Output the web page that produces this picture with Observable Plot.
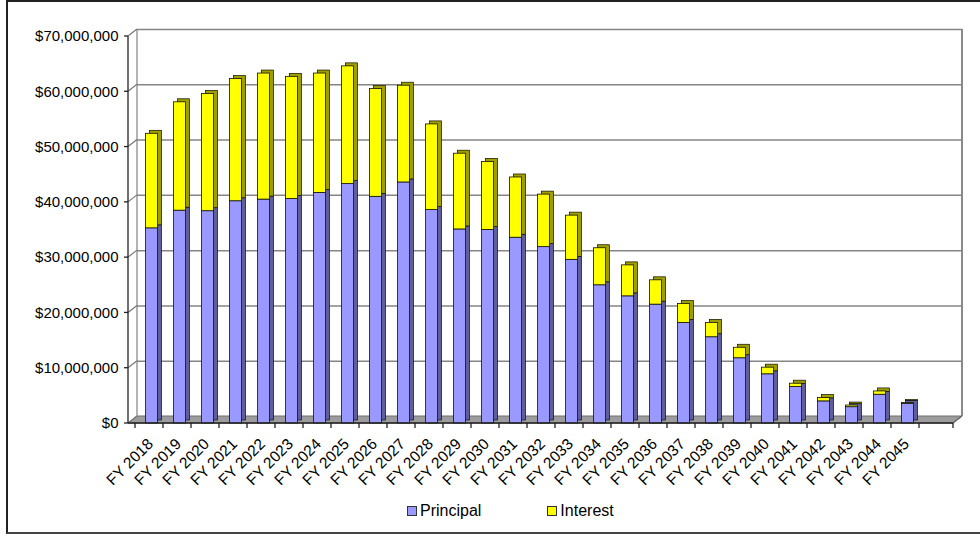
<!DOCTYPE html>
<html>
<head>
<meta charset="utf-8">
<script src="https://cdn.jsdelivr.net/npm/d3@7"></script>
<script src="https://cdn.jsdelivr.net/npm/@observablehq/plot@0.6"></script>
<style>
  html, body { margin: 0; padding: 0; background: #fff; }
  #wrap { position: relative; width: 980px; height: 537px; overflow: hidden; font-family: "Liberation Sans", Arial, sans-serif; }
  #border { position: absolute; left: 6px; top: 0px; width: 980px; height: 534px; border-left: 2px solid #222; border-top: 2px solid #222; border-bottom: 2px solid #444; box-sizing: border-box; }
  #chart { position: absolute; left: 0; top: 0; }
  #legend { position: absolute; left: 407px; top: 502px; display: flex; align-items: center; font-size: 16px; color: #000; }
  #legend .item { display: flex; align-items: center; }
  #legend .sw { width: 8px; height: 8px; border: 1px solid #333; margin-right: 3px; }
</style>
</head>
<body>
<div id="wrap">
  <div id="border"></div>
  <div id="chart"></div>
  <div id="legend"></div>
</div>
<script>
// ---- data ----
const years = ["FY 2018","FY 2019","FY 2020","FY 2021","FY 2022","FY 2023","FY 2024","FY 2025","FY 2026","FY 2027",
  "FY 2028","FY 2029","FY 2030","FY 2031","FY 2032","FY 2033","FY 2034","FY 2035","FY 2036","FY 2037",
  "FY 2038","FY 2039","FY 2040","FY 2041","FY 2042","FY 2043","FY 2044","FY 2045"];
const principal = [35300000, 38500000, 38400000, 40200000, 40500000, 40600000, 41700000, 43300000, 41000000, 43600000,
  38600000, 35100000, 35000000, 33600000, 31900000, 29600000, 25000000, 23000000, 21500000, 18200000,
  15600000, 11800000, 8900000, 6600000, 4000000, 2950000, 5200000, 3550000];
const interest = [17100000, 19600000, 21200000, 22100000, 22800000, 22100000, 21600000, 21300000, 19500000, 17500000,
  15500000, 13700000, 12300000, 10900000, 9500000, 8000000, 6700000, 5600000, 4400000, 3400000,
  2600000, 1900000, 1200000, 600000, 600000, 300000, 600000, 150000];
const seriesNames = ["Principal", "Interest"];
const seriesColors = ["#9999FF", "#FFFF00"];
const yTicks = [0, 10000000, 20000000, 30000000, 40000000, 50000000, 60000000, 70000000];

// long-format table
const table = [];
years.forEach((yr, i) => {
  table.push({year: yr, series: "Principal", value: principal[i]});
  table.push({year: yr, series: "Interest", value: interest[i]});
});

const DX = 9, DY = -7;     // wall depth
const BX = 4, BY = -3;     // bar depth
const fmt = d => "$" + d3.format(",")(d);

function structure(index, scales, values, dims) {
  const x = scales.x, y = scales.y;
  const x0 = dims.marginLeft, x1 = dims.width - dims.marginRight;
  const y0 = y(0), yT = y(yTicks[yTicks.length - 1]);
  const g = d3.create("svg:g");
  // floor
  g.append("path")
    .attr("d", `M${x0},${y0}L${x1},${y0}L${x1 + DX},${y0 + DY}L${x0 + DX},${y0 + DY}Z`)
    .attr("fill", "#9c9c9c").attr("stroke", "#6e6e6e").attr("stroke-width", 1);
  // back wall edges
  g.append("line").attr("x1", x0 + DX).attr("x2", x0 + DX).attr("y1", y0 + DY).attr("y2", yT + DY)
    .attr("stroke", "#8a8a8a").attr("stroke-width", 1.3);
  g.append("line").attr("x1", x1 + DX).attr("x2", x1 + DX).attr("y1", y0 + DY).attr("y2", yT + DY)
    .attr("stroke", "#8a8a8a").attr("stroke-width", 2);
  // side wall diagonals
  yTicks.forEach(t => {
    g.append("line").attr("x1", x0).attr("y1", y(t)).attr("x2", x0 + DX).attr("y2", y(t) + DY)
      .attr("stroke", "#777").attr("stroke-width", 1.2);
  });
  return g.node();
}

function axesLines(index, scales, values, dims) {
  const x = scales.x, y = scales.y;
  const x0 = dims.marginLeft, x1 = dims.width - dims.marginRight;
  const y0 = y(0), yT = y(yTicks[yTicks.length - 1]);
  const g = d3.create("svg:g").attr("stroke", "#222").attr("stroke-width", 1.3);
  g.append("line").attr("x1", x0).attr("x2", x0).attr("y1", y0).attr("y2", yT);
  g.append("line").attr("x1", x0).attr("x2", x1).attr("y1", y0).attr("y2", y0);
  g.append("line").attr("x1", x1).attr("x2", x1 + DX).attr("y1", y0).attr("y2", y0 + DY).attr("stroke", "#666");
  const dom = x.domain();
  dom.forEach(d => {
    const px = x(d);
    g.append("line").attr("x1", px).attr("x2", px).attr("y1", y0).attr("y2", y0 + 5);
  });
  g.append("line").attr("x1", x1).attr("x2", x1).attr("y1", y0).attr("y2", y0 + 5);
  yTicks.forEach(t => {
    g.append("line").attr("x1", x0 - 4).attr("x2", x0).attr("y1", y(t)).attr("y2", y(t));
  });
  return g.node();
}

const barOpts = {x: "year", y: "value", z: "series", insetLeft: 10.5, insetRight: 5.5};

const chart = Plot.plot({
  width: 980,
  height: 495,
  marginLeft: 128,
  marginRight: 27,
  marginTop: 36,
  marginBottom: 72,
  style: {fontFamily: "'Liberation Sans', Arial, sans-serif", fontSize: "15px", color: "#000", background: "transparent"},
  x: {domain: [...years, " "], padding: 0, label: null},
  y: {domain: [0, 70000000], label: null},
  color: {domain: seriesNames, range: seriesColors},
  marks: [
    structure,
    Plot.ruleY(yTicks.slice(1), {dx: DX, dy: DY, stroke: "#858585", strokeWidth: 1.5}),
    // bar depth (side/top faces)
    Plot.barY(table, {...barOpts, fill: "series", dx: BX, dy: BY, stroke: "#111", strokeWidth: 0.7}),
    Plot.barY(table, {...barOpts, fill: "black", fillOpacity: 0.38, dx: BX, dy: BY}),
    // bar fronts
    Plot.barY(table, {...barOpts, fill: "series", stroke: "#111", strokeWidth: 0.8}),
    Plot.axisY({ticks: yTicks, tickFormat: fmt, tickSize: 0, tickPadding: 10, fontSize: 15}),
    Plot.axisX({ticks: years, tickSize: 0, tickRotate: -45, tickPadding: 18, textAnchor: "end", dx: 1, fontSize: 15.5}),
    axesLines
  ]
});
document.getElementById("chart").appendChild(chart);

// legend
const legend = document.getElementById("legend");
seriesNames.forEach((name, i) => {
  const item = document.createElement("div");
  item.className = "item";
  if (i > 0) item.style.marginLeft = "66px";
  const sw = document.createElement("div");
  sw.className = "sw";
  sw.style.background = seriesColors[i];
  const label = document.createElement("span");
  label.textContent = name;
  item.appendChild(sw);
  item.appendChild(label);
  legend.appendChild(item);
});
</script>
</body>
</html>
